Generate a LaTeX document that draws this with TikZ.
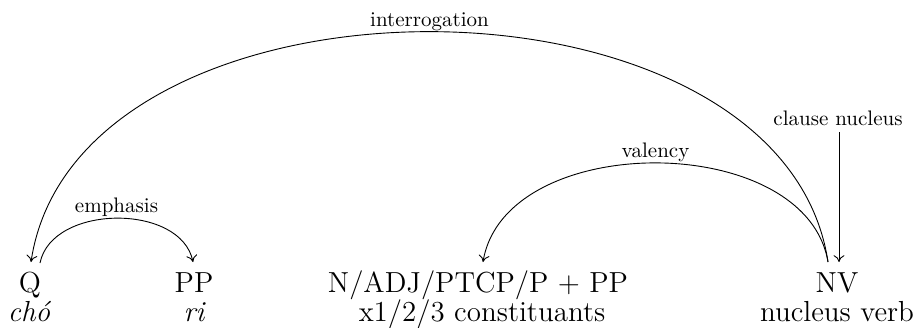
\documentclass[tikz,border=0pt]{standalone}
\usepackage{fontspec}
\usetikzlibrary{calc,arrows.meta}
\tikzset{
  word/.style={anchor=base, inner sep=0pt, font=\fontsize{14.5}{17}\selectfont},
  gloss/.style={anchor=base, inner sep=0pt, font=\fontsize{14.5}{17}\itshape},
  lab/.style={anchor=base, inner sep=0pt, font=\fontsize{10.5}{12}\selectfont},
  dep/.style={draw, line width=0.45pt, -{To[length=3.4pt,width=5.4pt]}},
}
\begin{document}
\begin{tikzpicture}[x=0.5pt,y=-0.5pt]
\useasboundingbox (0,0) rectangle (922,327);
% words
\node[word] (Q) at (30,292) {Q};
\node[gloss] (cho) at (29,321) {chó};
\node[word] (PP) at (194,292) {PP};
\node[gloss] (ri) at (194,321) {ri};
\node[word] (N) at (478,292) {N/ADJ/PTCP/P + PP};
\node[word] (cons) at (482,321) {x1/2/3 constituants};
\node[word] (NV) at (837,292) {NV};
\node[word] (nv) at (837,321) {nucleus verb};
% clause nucleus
\node[lab] (cn) at (838,125) {clause nucleus};
\draw[dep] ($(cn.base)+(1,7)$) -- ($(NV.base)+(2,-30)$);
% interrogation
\draw[dep] ($(NV.base)+(-9,-30)$) .. controls +(-46,-307) and +(46,-307) .. ($(Q.base)+(1,-30)$)
  node[lab, pos=0.5, yshift=2.8pt] (int) {interrogation};
% valency
\draw[dep] ($(NV.base)+(-9,-30)$) .. controls +(-22,-132) and +(22,-132) .. ($(N.base)+(5,-30)$)
  node[lab, pos=0.5, yshift=2.8pt] (val) {valency};
% emphasis
\draw[dep] ($(Q.base)+(10,-29)$) .. controls +(12,-59) and +(-12,-59) .. ($(PP.base)+(-1,-30)$)
  node[lab, pos=0.5, yshift=2.8pt] (emp) {emphasis};
\end{tikzpicture}
\end{document}
